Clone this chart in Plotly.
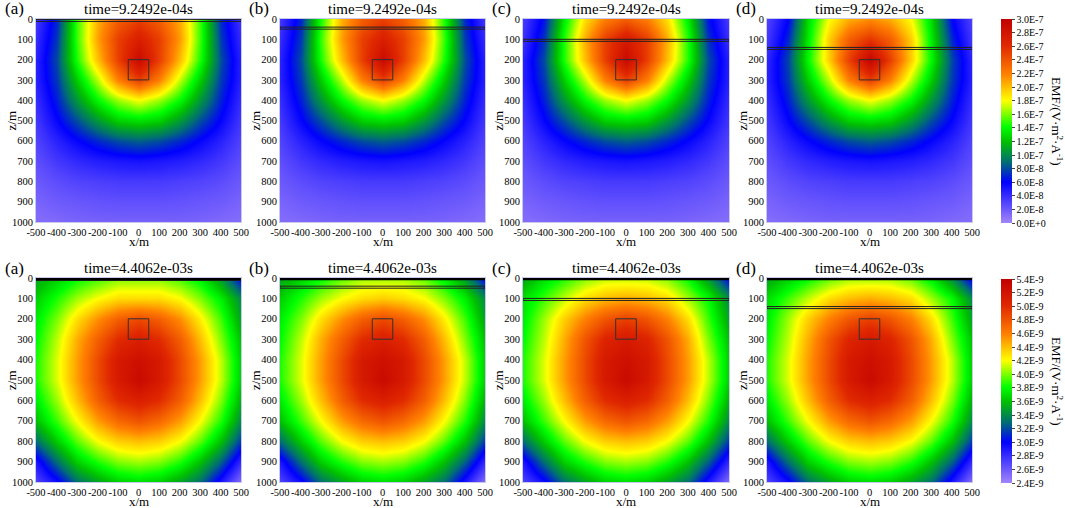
import plotly.graph_objects as go

# grid of the sampled section (m)
x_m = [-500, -400, -300, -200, -100, 0, 100, 200, 300, 400, 500]
z_m = [0, 100, 200, 300, 400, 500, 600, 700, 800, 900, 1000]

# EMF at t=9.2492e-04s, unit 1E-8 V/(m2 A), rows = depth
emf_early_a = [
    [3.5, 7.0, 15.0, 20.5, 23.5, 25.0, 23.5, 20.5, 15.0, 7.0, 3.5],
    [4.0, 7.5, 15.0, 21.0, 25.0, 27.0, 25.0, 21.0, 15.0, 7.5, 4.0],
    [4.5, 8.0, 14.5, 20.0, 25.0, 29.0, 25.0, 20.0, 14.5, 8.0, 4.5],
    [4.5, 7.5, 12.5, 17.0, 22.0, 25.0, 22.0, 17.0, 12.5, 7.5, 4.5],
    [4.0, 6.8, 10.5, 14.0, 16.5, 18.0, 16.5, 14.0, 10.5, 6.8, 4.0],
    [3.5, 5.8, 8.0, 10.5, 12.5, 13.0, 12.5, 10.5, 8.0, 5.8, 3.5],
    [3.0, 4.5, 5.8, 7.0, 8.0, 8.5, 8.0, 7.0, 5.8, 4.5, 3.0],
    [2.5, 3.5, 4.2, 4.7, 5.0, 5.2, 5.0, 4.7, 4.2, 3.5, 2.5],
    [2.0, 2.6, 3.0, 3.2, 3.4, 3.4, 3.4, 3.2, 3.0, 2.6, 2.0],
    [1.5, 1.9, 2.1, 2.3, 2.4, 2.4, 2.4, 2.3, 2.1, 1.9, 1.5],
    [1.1, 1.3, 1.5, 1.6, 1.6, 1.6, 1.6, 1.6, 1.5, 1.3, 1.1],
]
emf_early_b = [
    [3.5, 7.0, 14.5, 20.5, 23.5, 25.0, 23.5, 20.5, 14.5, 7.0, 3.5],
    [4.0, 7.5, 15.0, 21.0, 25.0, 27.0, 25.0, 21.0, 15.0, 7.5, 4.0],
    [4.5, 8.0, 14.5, 20.0, 25.0, 29.0, 25.0, 20.0, 14.5, 8.0, 4.5],
    [4.5, 7.5, 12.5, 17.0, 22.0, 25.0, 22.0, 17.0, 12.5, 7.5, 4.5],
    [4.0, 6.8, 10.5, 14.0, 16.5, 18.0, 16.5, 14.0, 10.5, 6.8, 4.0],
    [3.5, 5.8, 8.0, 10.5, 12.5, 13.0, 12.5, 10.5, 8.0, 5.8, 3.5],
    [3.0, 4.5, 5.8, 7.0, 8.0, 8.5, 8.0, 7.0, 5.8, 4.5, 3.0],
    [2.5, 3.5, 4.2, 4.7, 5.0, 5.2, 5.0, 4.7, 4.2, 3.5, 2.5],
    [2.0, 2.6, 3.0, 3.2, 3.4, 3.4, 3.4, 3.2, 3.0, 2.6, 2.0],
    [1.5, 1.9, 2.1, 2.3, 2.4, 2.4, 2.4, 2.3, 2.1, 1.9, 1.5],
    [1.1, 1.3, 1.5, 1.6, 1.6, 1.6, 1.6, 1.6, 1.5, 1.3, 1.1],
]
emf_early_c = [
    [3.3, 6.5, 13.5, 19.0, 22.0, 23.5, 22.0, 19.0, 13.5, 6.5, 3.3],
    [3.8, 7.3, 14.5, 20.5, 25.0, 27.5, 25.0, 20.5, 14.5, 7.3, 3.8],
    [4.5, 8.0, 14.5, 20.0, 25.0, 29.0, 25.0, 20.0, 14.5, 8.0, 4.5],
    [4.5, 7.5, 12.5, 17.0, 22.0, 25.0, 22.0, 17.0, 12.5, 7.5, 4.5],
    [4.0, 6.8, 10.5, 14.0, 16.5, 18.0, 16.5, 14.0, 10.5, 6.8, 4.0],
    [3.5, 5.8, 8.0, 10.5, 12.5, 13.0, 12.5, 10.5, 8.0, 5.8, 3.5],
    [3.0, 4.5, 5.8, 7.0, 8.0, 8.5, 8.0, 7.0, 5.8, 4.5, 3.0],
    [2.5, 3.5, 4.2, 4.7, 5.0, 5.2, 5.0, 4.7, 4.2, 3.5, 2.5],
    [2.0, 2.6, 3.0, 3.2, 3.4, 3.4, 3.4, 3.2, 3.0, 2.6, 2.0],
    [1.5, 1.9, 2.1, 2.3, 2.4, 2.4, 2.4, 2.3, 2.1, 1.9, 1.5],
    [1.1, 1.3, 1.5, 1.6, 1.6, 1.6, 1.6, 1.6, 1.5, 1.3, 1.1],
]
emf_early_d = [
    [3.0, 6.0, 13.0, 18.0, 20.5, 21.5, 20.5, 18.0, 13.0, 6.0, 3.0],
    [3.5, 7.0, 13.5, 19.5, 23.5, 25.5, 23.5, 19.5, 13.5, 7.0, 3.5],
    [4.3, 7.8, 14.0, 19.5, 25.0, 29.5, 25.0, 19.5, 14.0, 7.8, 4.3],
    [4.5, 7.5, 12.5, 17.0, 22.0, 25.0, 22.0, 17.0, 12.5, 7.5, 4.5],
    [4.0, 6.8, 10.5, 14.0, 16.5, 18.0, 16.5, 14.0, 10.5, 6.8, 4.0],
    [3.5, 5.8, 8.0, 10.5, 12.5, 13.0, 12.5, 10.5, 8.0, 5.8, 3.5],
    [3.0, 4.5, 5.8, 7.0, 8.0, 8.5, 8.0, 7.0, 5.8, 4.5, 3.0],
    [2.5, 3.5, 4.2, 4.7, 5.0, 5.2, 5.0, 4.7, 4.2, 3.5, 2.5],
    [2.0, 2.6, 3.0, 3.2, 3.4, 3.4, 3.4, 3.2, 3.0, 2.6, 2.0],
    [1.5, 1.9, 2.1, 2.3, 2.4, 2.4, 2.4, 2.3, 2.1, 1.9, 1.5],
    [1.1, 1.3, 1.5, 1.6, 1.6, 1.6, 1.6, 1.6, 1.5, 1.3, 1.1],
]

# EMF at t=4.4062e-03s, unit 1E-9 V/(m2 A)
emf_late_a = [
    [3.50, 3.65, 3.80, 3.90, 4.00, 4.00, 4.00, 3.90, 3.75, 3.45, 3.00],
    [3.65, 3.85, 4.05, 4.20, 4.30, 4.30, 4.30, 4.20, 4.00, 3.75, 3.40],
    [3.75, 4.00, 4.30, 4.55, 4.75, 4.85, 4.75, 4.55, 4.25, 3.90, 3.50],
    [3.80, 4.10, 4.45, 4.75, 5.00, 5.10, 5.00, 4.75, 4.40, 4.00, 3.60],
    [3.85, 4.15, 4.50, 4.85, 5.15, 5.25, 5.15, 4.85, 4.50, 4.10, 3.65],
    [3.85, 4.15, 4.50, 4.85, 5.15, 5.30, 5.15, 4.85, 4.50, 4.10, 3.65],
    [3.75, 4.05, 4.40, 4.75, 5.00, 5.10, 5.00, 4.75, 4.40, 4.00, 3.55],
    [3.60, 3.90, 4.20, 4.50, 4.70, 4.80, 4.70, 4.50, 4.20, 3.85, 3.40],
    [3.30, 3.65, 3.95, 4.20, 4.35, 4.40, 4.35, 4.20, 3.95, 3.60, 3.15],
    [2.90, 3.30, 3.65, 3.85, 4.00, 4.05, 4.00, 3.85, 3.60, 3.25, 2.80],
    [2.70, 2.95, 3.30, 3.50, 3.65, 3.70, 3.65, 3.50, 3.30, 2.90, 2.50],
]
emf_late_b = [
    [3.50, 3.65, 3.80, 3.95, 4.05, 4.05, 4.05, 3.95, 3.75, 3.45, 3.00],
    [3.65, 3.85, 4.05, 4.20, 4.30, 4.35, 4.30, 4.20, 4.00, 3.75, 3.40],
    [3.75, 4.00, 4.30, 4.55, 4.75, 4.85, 4.75, 4.55, 4.25, 3.90, 3.50],
    [3.80, 4.10, 4.45, 4.75, 5.00, 5.10, 5.00, 4.75, 4.40, 4.00, 3.60],
    [3.85, 4.15, 4.50, 4.85, 5.15, 5.25, 5.15, 4.85, 4.50, 4.10, 3.65],
    [3.85, 4.15, 4.50, 4.85, 5.15, 5.30, 5.15, 4.85, 4.50, 4.10, 3.65],
    [3.75, 4.05, 4.40, 4.75, 5.00, 5.10, 5.00, 4.75, 4.40, 4.00, 3.55],
    [3.60, 3.90, 4.20, 4.50, 4.70, 4.80, 4.70, 4.50, 4.20, 3.85, 3.40],
    [3.30, 3.65, 3.95, 4.20, 4.35, 4.40, 4.35, 4.20, 3.95, 3.60, 3.15],
    [2.90, 3.30, 3.65, 3.85, 4.00, 4.05, 4.00, 3.85, 3.60, 3.25, 2.80],
    [2.70, 2.95, 3.30, 3.50, 3.65, 3.70, 3.65, 3.50, 3.30, 2.90, 2.50],
]
emf_late_c = [
    [3.50, 3.70, 3.85, 4.00, 4.10, 4.10, 4.10, 4.00, 3.80, 3.45, 3.00],
    [3.70, 3.90, 4.10, 4.30, 4.40, 4.45, 4.40, 4.30, 4.05, 3.80, 3.40],
    [3.75, 4.05, 4.35, 4.60, 4.80, 4.90, 4.80, 4.60, 4.30, 3.90, 3.50],
    [3.80, 4.10, 4.45, 4.80, 5.05, 5.15, 5.05, 4.80, 4.45, 4.00, 3.60],
    [3.85, 4.15, 4.50, 4.85, 5.15, 5.25, 5.15, 4.85, 4.50, 4.10, 3.65],
    [3.85, 4.15, 4.50, 4.85, 5.15, 5.30, 5.15, 4.85, 4.50, 4.10, 3.65],
    [3.75, 4.05, 4.40, 4.75, 5.00, 5.10, 5.00, 4.75, 4.40, 4.00, 3.55],
    [3.60, 3.90, 4.20, 4.50, 4.70, 4.80, 4.70, 4.50, 4.20, 3.85, 3.40],
    [3.30, 3.65, 3.95, 4.20, 4.35, 4.40, 4.35, 4.20, 3.95, 3.60, 3.15],
    [2.90, 3.30, 3.65, 3.85, 4.00, 4.05, 4.00, 3.85, 3.60, 3.25, 2.80],
    [2.70, 2.95, 3.30, 3.50, 3.65, 3.70, 3.65, 3.50, 3.30, 2.90, 2.50],
]
emf_late_d = [
    [3.50, 3.65, 3.80, 3.95, 4.05, 4.05, 4.05, 3.95, 3.75, 3.40, 2.95],
    [3.70, 3.90, 4.10, 4.30, 4.40, 4.45, 4.40, 4.30, 4.05, 3.80, 3.40],
    [3.75, 4.05, 4.35, 4.60, 4.80, 4.90, 4.80, 4.60, 4.30, 3.90, 3.50],
    [3.80, 4.10, 4.45, 4.80, 5.05, 5.15, 5.05, 4.80, 4.45, 4.00, 3.60],
    [3.85, 4.15, 4.50, 4.85, 5.15, 5.25, 5.15, 4.85, 4.50, 4.10, 3.65],
    [3.85, 4.15, 4.50, 4.85, 5.15, 5.30, 5.15, 4.85, 4.50, 4.10, 3.65],
    [3.75, 4.05, 4.40, 4.75, 5.00, 5.10, 5.00, 4.75, 4.40, 4.00, 3.55],
    [3.60, 3.90, 4.20, 4.50, 4.70, 4.80, 4.70, 4.50, 4.20, 3.85, 3.40],
    [3.30, 3.65, 3.95, 4.20, 4.35, 4.40, 4.35, 4.20, 3.95, 3.60, 3.15],
    [2.90, 3.30, 3.65, 3.85, 4.00, 4.05, 4.00, 3.85, 3.60, 3.25, 2.80],
    [2.70, 2.95, 3.30, 3.50, 3.65, 3.70, 3.65, 3.50, 3.30, 2.90, 2.50],
]

panel_letters = ["(a)", "(b)", "(c)", "(d)"]
time_labels = ["time=9.2492e-04s", "time=4.4062e-03s"]
# conductive layer top/bottom depth for each column (m)
layer_top = [2, 40, 100, 140]
layer_bot = [12, 50, 110, 150]
# anomalous body
box_x = [-50, 50]
box_z = [200, 300]

x_ticks = [-500, -400, -300, -200, -100, 0, 100, 200, 300, 400, 500]
x_ticktext = ["-500", "-400", "-300", "-200", "-100", "0", "100", "200",
              "300", "400", "500"]
z_ticks = [0, 100, 200, 300, 400, 500, 600, 700, 800, 900, 1000]

early_ticks = [0, 2, 4, 6, 8, 10, 12, 14, 16, 18, 20, 22, 24, 26, 28, 30]
early_ticktext = ["0.0E+0", "2.0E-8", "4.0E-8", "6.0E-8", "8.0E-8", "1.0E-7",
                  "1.2E-7", "1.4E-7", "1.6E-7", "1.8E-7", "2.0E-7", "2.2E-7",
                  "2.4E-7", "2.6E-7", "2.8E-7", "3.0E-7"]
late_ticks = [2.4, 2.6, 2.8, 3.0, 3.2, 3.4, 3.6, 3.8, 4.0, 4.2, 4.4, 4.6,
              4.8, 5.0, 5.2, 5.4]
late_ticktext = ["2.4E-9", "2.6E-9", "2.8E-9", "3.0E-9", "3.2E-9", "3.4E-9",
                 "3.6E-9", "3.8E-9", "4.0E-9", "4.2E-9", "4.4E-9", "4.6E-9",
                 "4.8E-9", "5.0E-9", "5.2E-9", "5.4E-9"]

emf_scale = [
    [0.0, "#a285fb"], [0.2, "#0000ff"], [0.3, "#007070"], [0.4, "#00c000"],
    [0.47, "#00ff00"], [0.6, "#ffff00"], [0.73, "#ff8000"], [0.87, "#e02800"],
    [1.0, "#c00000"],
]

W, H = 1065, 508
col_px = [(36, 241), (280, 485), (523, 729), (767, 972)]
row_px = [(19, 222), (278, 482)]
FONT = "Liberation Serif"


def paper_x(px):
    return px / W


def paper_y(py):
    return 1 - py / H


fig = go.Figure()
grids = [[emf_early_a, emf_early_b, emf_early_c, emf_early_d],
         [emf_late_a, emf_late_b, emf_late_c, emf_late_d]]

for r in range(2):
    for c in range(4):
        n = r * 4 + c + 1
        sx = "" if n == 1 else str(n)
        fig.add_trace(go.Heatmap(
            x=x_m, y=z_m, z=grids[r][c], zsmooth="best",
            coloraxis="coloraxis" if r == 0 else "coloraxis2",
            xaxis="x" + sx, yaxis="y" + sx, hoverinfo="skip"))
        x0, x1 = col_px[c]
        y0, y1 = row_px[r]
        fig.layout["xaxis" + sx] = dict(
            domain=[paper_x(x0), paper_x(x1)], anchor="y" + sx, range=[-500, 500],
            tickvals=x_ticks, ticktext=x_ticktext, ticks="", showgrid=False,
            zeroline=False, tickangle=0, automargin=False,
            tickfont=dict(family=FONT, size=10.5, color="black"),
            mirror=True, showline=True, linecolor="#c8c8e8", linewidth=1)
        fig.layout["yaxis" + sx] = dict(
            domain=[paper_y(y1), paper_y(y0)], anchor="x" + sx, range=[1000, 0],
            tickvals=z_ticks, ticks="", showgrid=False,
            zeroline=False, automargin=False,
            tickfont=dict(family=FONT, size=10.5, color="black"),
            mirror=True, showline=True, linecolor="#c8c8e8", linewidth=1)
        xr, yr = "x" + sx, "y" + sx
        # layer
        fig.add_shape(type="rect", xref=xr, yref=yr, x0=-500, x1=500,
                      y0=layer_top[c], y1=layer_bot[c],
                      line=dict(color="#202020", width=1))
        # surface line at late time
        if r == 1:
            fig.add_shape(type="line", xref=xr, yref=yr, x0=-500, x1=500,
                          y0=4, y1=4, line=dict(color="black", width=3))
        # anomalous body
        fig.add_shape(type="rect", xref=xr, yref=yr, x0=box_x[0], x1=box_x[1],
                      y0=box_z[0], y1=box_z[1], line=dict(color="#303030", width=1))
        fig.add_annotation(text=time_labels[r], x=paper_x((x0 + x1) / 2),
                           y=paper_y(y0 - 10), xanchor="center", yanchor="middle",
                           font=dict(size=15))
        fig.add_annotation(text=panel_letters[c], x=paper_x(x0 - 33),
                           y=paper_y(y0 - 10), xanchor="left", yanchor="middle",
                           font=dict(size=17))
        fig.add_annotation(text="x/m", x=paper_x((x0 + x1) / 2), y=paper_y(y1 + 19),
                           xanchor="center", yanchor="middle", font=dict(size=13))
        fig.add_annotation(text="z/m", x=paper_x(x0 - 25), y=paper_y((y0 + y1) / 2),
                           xanchor="center", yanchor="middle", textangle=-90,
                           font=dict(size=13))

for yc in [121, 381]:
    fig.add_annotation(text="EMF/(V·m<sup>2</sup>·A<sup>-1</sup>)", textangle=90,
                       x=paper_x(1057), y=paper_y(yc), xanchor="center",
                       yanchor="middle", font=dict(size=13))

fig.update_annotations(xref="paper", yref="paper", showarrow=False,
                       font_family=FONT, font_color="black")

cb_common = dict(thickness=11, x=paper_x(1001), xanchor="left", yanchor="top",
                 xpad=0, ypad=0, outlinewidth=0, ticks="outside", ticklen=3,
                 tickfont=dict(family=FONT, size=10, color="black"))
fig.update_layout(
    width=W, height=H, margin=dict(l=0, r=0, t=0, b=0, autoexpand=False),
    plot_bgcolor="white", paper_bgcolor="white",
    coloraxis=dict(colorscale=emf_scale, cmin=0, cmax=30,
                   colorbar=dict(cb_common, y=paper_y(19), len=204 / H,
                                 lenmode="fraction", tickvals=early_ticks,
                                 ticktext=early_ticktext)),
    coloraxis2=dict(colorscale=emf_scale, cmin=2.4, cmax=5.4,
                    colorbar=dict(cb_common, y=paper_y(279), len=204 / H,
                                  lenmode="fraction", tickvals=late_ticks,
                                  ticktext=late_ticktext)),
)

fig.write_html("out.html", config={"displayModeBar": False},
               post_script="document.body.style.margin='0';")
